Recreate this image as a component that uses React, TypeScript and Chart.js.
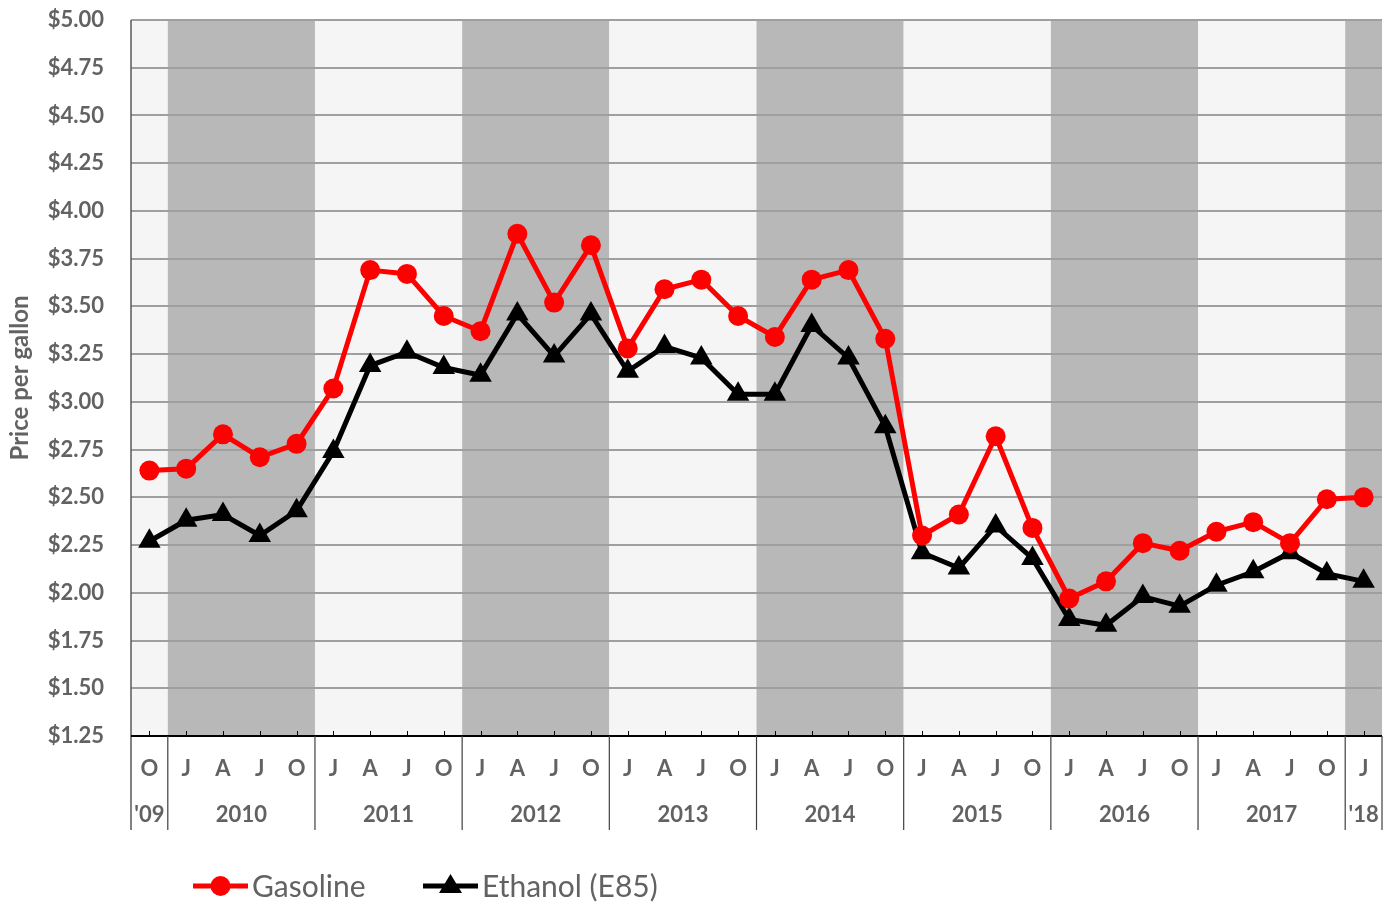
import React, { useEffect, useRef } from "react";
import { Chart, registerables } from "chart.js";

Chart.register(...registerables);

const quarterLabels = [
  "O",
  "J", "A", "J", "O",
  "J", "A", "J", "O",
  "J", "A", "J", "O",
  "J", "A", "J", "O",
  "J", "A", "J", "O",
  "J", "A", "J", "O",
  "J", "A", "J", "O",
  "J", "A", "J", "O",
  "J",
];
const yearLabels = ["'09", "2010", "2011", "2012", "2013", "2014", "2015", "2016", "2017", "'18"];
const yearSpans = [1, 4, 4, 4, 4, 4, 4, 4, 4, 1];

const gasoline = [
  2.64,
  2.65, 2.83, 2.71, 2.78,
  3.07, 3.69, 3.67, 3.45,
  3.37, 3.88, 3.52, 3.82,
  3.28, 3.59, 3.64, 3.45,
  3.34, 3.64, 3.69, 3.33,
  2.30, 2.41, 2.82, 2.34,
  1.97, 2.06, 2.26, 2.22,
  2.32, 2.37, 2.26, 2.49,
  2.50,
];
const ethanol = [
  2.27,
  2.38, 2.41, 2.30, 2.43,
  2.74, 3.19, 3.26, 3.18,
  3.14, 3.46, 3.24, 3.46,
  3.16, 3.29, 3.23, 3.04,
  3.04, 3.40, 3.23, 2.87,
  2.21, 2.13, 2.35, 2.18,
  1.86, 1.83, 1.98, 1.93,
  2.04, 2.11, 2.21, 2.10,
  2.06,
];

const FONT = "Lato, 'Open Sans', sans-serif";
const TEXT = "#626262";
const LIGHT = "#f5f5f5";
const DARK = "#b8b8b8";

const decorPlugin = {
  id: "decor",
  beforeDraw(chart: any) {
    const { ctx, chartArea } = chart;
    const x = chart.scales.x;
    const half = (x.getPixelForValue(1) - x.getPixelForValue(0)) / 2;
    let idx = 0;
    ctx.save();
    yearSpans.forEach((span, i) => {
      const l = x.getPixelForValue(idx) - half;
      const r = x.getPixelForValue(idx + span - 1) + half;
      ctx.fillStyle = i % 2 === 0 ? LIGHT : DARK;
      ctx.fillRect(l, chartArea.top, r - l, chartArea.bottom - chartArea.top);
      idx += span;
    });
    ctx.restore();
  },
  afterDraw(chart: any) {
    const { ctx, chartArea } = chart;
    const x = chart.scales.x;
    const half = (x.getPixelForValue(1) - x.getPixelForValue(0)) / 2;
    const bottom = chartArea.bottom;
    const sepBottom = bottom + 94;
    ctx.save();
    // left axis
    ctx.strokeStyle = "#595959";
    ctx.lineWidth = 1.5;
    ctx.beginPath();
    ctx.moveTo(chartArea.left, chartArea.top);
    ctx.lineTo(chartArea.left, sepBottom);
    ctx.stroke();
    // bottom axis
    ctx.strokeStyle = "#000";
    ctx.lineWidth = 2;
    ctx.beginPath();
    ctx.moveTo(chartArea.left, bottom);
    ctx.lineTo(chartArea.right, bottom);
    ctx.stroke();
    // inner ticks
    ctx.lineWidth = 1;
    quarterLabels.forEach((_, i) => {
      const px = Math.round(x.getPixelForValue(i)) + 0.5;
      ctx.beginPath();
      ctx.moveTo(px, bottom - 5);
      ctx.lineTo(px, bottom);
      ctx.stroke();
    });
    // quarter & year labels, separators
    ctx.fillStyle = TEXT;
    ctx.textAlign = "center";
    ctx.textBaseline = "middle";
    ctx.font = `bold 22px ${FONT}`;
    quarterLabels.forEach((q, i) => {
      ctx.fillText(q, x.getPixelForValue(i), bottom + 33);
    });
    let idx = 0;
    ctx.strokeStyle = "#404040";
    ctx.lineWidth = 1.2;
    yearSpans.forEach((span, i) => {
      const l = x.getPixelForValue(idx) - half;
      const r = x.getPixelForValue(idx + span - 1) + half;
      ctx.beginPath();
      ctx.moveTo(r, bottom);
      ctx.lineTo(r, sepBottom);
      ctx.stroke();
      ctx.fillText(yearLabels[i], (l + r) / 2, bottom + 79);
      idx += span;
    });
    // y title
    ctx.save();
    ctx.translate(20, (chartArea.top + chartArea.bottom) / 2);
    ctx.rotate(-Math.PI / 2);
    ctx.font = `bold 24px ${FONT}`;
    ctx.fillText("Price per gallon", 0, 0);
    ctx.restore();
    // legend
    const ly = 886;
    ctx.lineWidth = 5;
    ctx.strokeStyle = "#ff0000";
    ctx.beginPath();
    ctx.moveTo(193, ly);
    ctx.lineTo(248, ly);
    ctx.stroke();
    ctx.fillStyle = "#ff0000";
    ctx.beginPath();
    ctx.arc(220.5, ly, 10, 0, Math.PI * 2);
    ctx.fill();
    ctx.strokeStyle = "#000";
    ctx.beginPath();
    ctx.moveTo(423, ly);
    ctx.lineTo(478, ly);
    ctx.stroke();
    ctx.fillStyle = "#000";
    ctx.beginPath();
    ctx.moveTo(450.5, ly - 12);
    ctx.lineTo(462, ly + 7);
    ctx.lineTo(439, ly + 7);
    ctx.closePath();
    ctx.fill();
    ctx.fillStyle = TEXT;
    ctx.textAlign = "left";
    ctx.font = `30px ${FONT}`;
    ctx.fillText("Gasoline", 252, ly + 1);
    ctx.fillText("Ethanol (E85)", 482, ly + 1);
    ctx.restore();
  },
};

export default function App() {
  const ref = useRef<HTMLCanvasElement>(null);
  useEffect(() => {
    if (!ref.current) return;
    const chart = new Chart(ref.current, {
      type: "line",
      data: {
        labels: quarterLabels,
        datasets: [
          {
            label: "Gasoline",
            data: gasoline,
            borderColor: "#ff0000",
            backgroundColor: "#ff0000",
            borderWidth: 5,
            pointStyle: "circle",
            pointRadius: 10,
            pointBorderWidth: 0,
            tension: 0,
          },
          {
            label: "Ethanol (E85)",
            data: ethanol,
            borderColor: "#000000",
            backgroundColor: "#000000",
            borderWidth: 5,
            pointStyle: "triangle",
            pointRadius: 13,
            pointBorderWidth: 0,
            tension: 0,
          },
        ],
      },
      options: {
        animation: false,
        responsive: false,
        layout: { padding: { left: 0, top: 20, right: 10, bottom: 167 } },
        plugins: { legend: { display: false }, tooltip: { enabled: false } },
        scales: {
          x: { display: false, offset: true },
          y: {
            min: 1.25,
            max: 5,
            afterFit: (s: any) => {
              s.width = 131;
              s.paddingTop = 0;
              s.paddingBottom = 0;
            },
            border: { display: false },
            grid: { color: "#9f9f9f", lineWidth: 2, drawTicks: false },
            ticks: {
              stepSize: 0.25,
              padding: 27,
              color: TEXT,
              font: { family: FONT, weight: "bold", size: 22 },
              callback: (v: any) => "$" + Number(v).toFixed(2),
            },
          },
        },
      },
      plugins: [decorPlugin],
    });
    return () => chart.destroy();
  }, []);
  return (
    <div
      style={{
        position: "fixed",
        left: 0,
        top: 0,
        width: 1392,
        height: 903,
        overflow: "hidden",
        background: "#fff",
      }}
    >
      <canvas ref={ref} width={1395} height={903} />
    </div>
  );
}
